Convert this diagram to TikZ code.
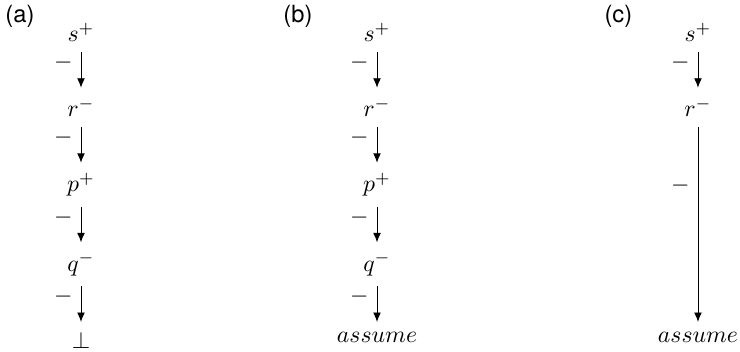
\documentclass[tikz,border=0pt]{standalone}
\usepackage{fontspec}
\newfontfamily\capfont{TeX Gyre Heros}
\usetikzlibrary{positioning,arrows.meta}
\begin{document}
\begin{tikzpicture}[
  node distance=5.3mm,
  term/.style={inner xsep=1pt, inner ysep=4.1pt},
  imp/.style={draw, -{Latex[length=4pt,width=3.3pt]}},
  tag/.style={anchor=north west, inner sep=0pt, font=\capfont\fontsize{10}{12}\selectfont}
  ]

  \useasboundingbox (0,0) rectangle (10.972,-5.219);

  % (a)
  \node[tag] (tag-a) at (0.074,-0.074) {(a)};
  \node[term, anchor=base] (a-s) at (1.201,-0.62) {$s^+$};
  \node[term, below=of a-s] (a-r) {$r^-$};
  \node[term, below=of a-r] (a-p) {$p^+$};
  \node[term, below=of a-p] (a-q) {$q^-$};
  \node[term, below=of a-q] (a-f) {$\bot$};

  \draw[imp] (a-s) -- node[left, pos=0.3]{$-$} (a-r);
  \draw[imp] (a-r) -- node[left, pos=0.3]{$-$} (a-p);
  \draw[imp] (a-p) -- node[left, pos=0.3]{$-$} (a-q);
  \draw[imp] (a-q) -- node[left, pos=0.3]{$-$} (a-f);

  % (b)
  \node[tag] (tag-b) at (4.196,-0.074) {(b)};
  \node[term, anchor=base] (b-s) at (5.590,-0.62) {$s^+$};
  \node[term, below=of b-s] (b-r) {$r^-$};
  \node[term, below=of b-r] (b-p) {$p^+$};
  \node[term, below=of b-p] (b-q) {$q^-$};
  \node[term, below=of b-q] (b-a) {$assume$};

  \draw[imp] (b-s) -- node[left, pos=0.3]{$-$} (b-r);
  \draw[imp] (b-r) -- node[left, pos=0.3]{$-$} (b-p);
  \draw[imp] (b-p) -- node[left, pos=0.3]{$-$} (b-q);
  \draw[imp] (b-q) -- node[left, pos=0.3]{$-$} (b-a);

  % (c)
  \node[tag] (tag-c) at (8.956,-0.074) {(c)};
  \node[term, anchor=base] (c-s) at (10.349,-0.62) {$s^+$};
  \node[term, below=of c-s] (c-r) {$r^-$};
  \node[term] (c-a) at (b-a -| c-r) {$assume$};

  \draw[imp] (c-s) -- node[left, pos=0.3]{$-$} (c-r);
  \draw[imp] (c-r) -- node[left, pos=0.3]{$-$} (c-a);

\end{tikzpicture}
\end{document}
